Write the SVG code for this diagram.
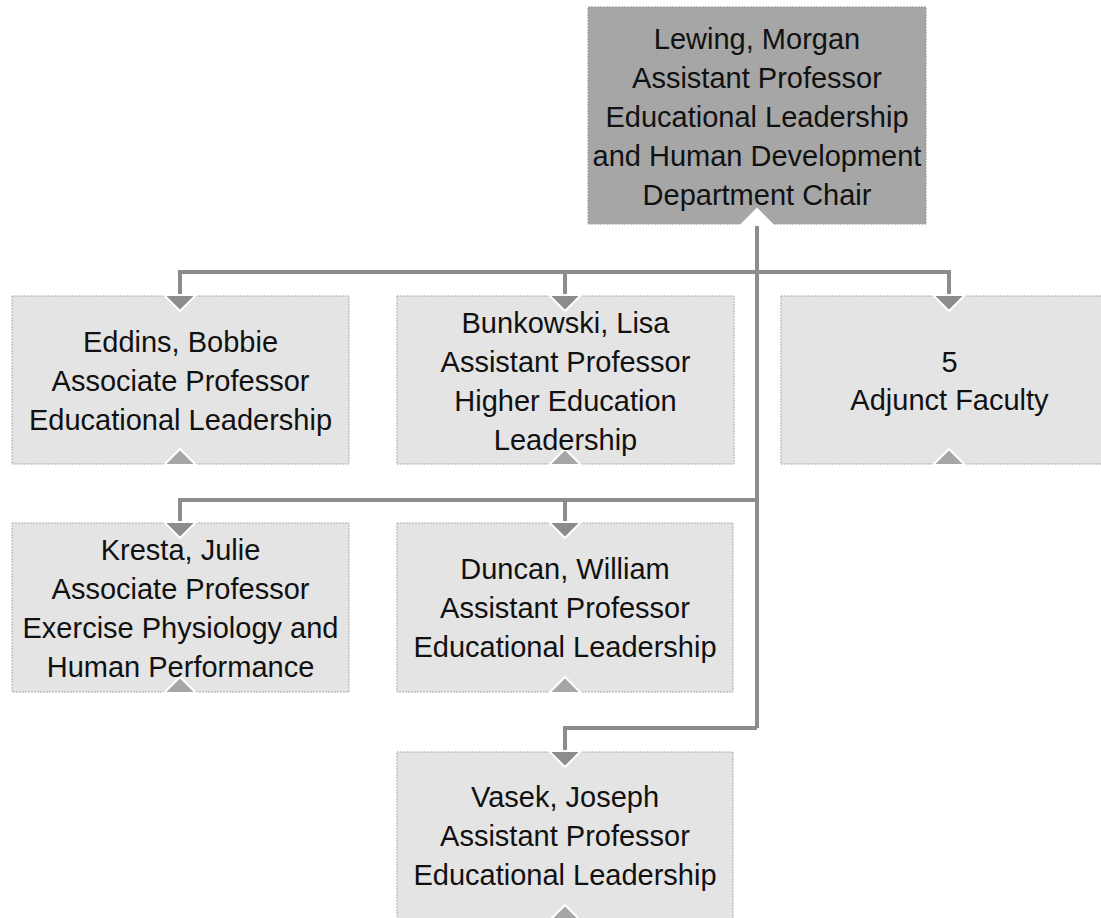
<svg xmlns="http://www.w3.org/2000/svg" width="1101" height="918" viewBox="0 0 1101 918">
<style>
.box{fill:#e4e4e4;stroke:#ababab;stroke-width:1;stroke-dasharray:2 1}
.chief{fill:#a6a6a6;stroke:#9a9a9a;stroke-width:1;stroke-dasharray:2 1}
.conn{fill:none;stroke:#8c8c8c;stroke-width:4}
.inN{fill:#8c8c8c;stroke:#ffffff;stroke-width:2}
.outN{fill:#a6a6a6;stroke:#ffffff;stroke-width:2}
.topN{fill:#ffffff;stroke:#ffffff;stroke-width:2}
text{font-family:"Liberation Sans",Arial,sans-serif;font-size:29px;fill:#111;text-anchor:middle}
</style>
<rect width="1101" height="918" fill="#ffffff"/>
<g id="connectors">
<path class="conn" d="M757,214 V728"/>
<path class="conn" d="M180,298 V272 H949 V298"/>
<path class="conn" d="M565,272 V298"/>
<path class="conn" d="M180,525 V500 H757"/>
<path class="conn" d="M565,500 V525"/>
<path class="conn" d="M757,728 H565 V754"/>
</g>
<g id="lewing">
<rect class="chief" x="588" y="7" width="338" height="217"/>
<polygon class="topN" points="741,225 773,225 757,209"/>
<text x="757" y="49">Lewing, Morgan</text>
<text x="757" y="88">Assistant Professor</text>
<text x="757" y="127">Educational Leadership</text>
<text x="757" y="166">and Human Development</text>
<text x="757" y="205">Department Chair</text>
</g>
<g id="eddins">
<rect class="box" x="12" y="296" width="337" height="168"/>
<polygon class="inN" points="164,295 196,295 180,311"/>
<polygon class="outN" points="164,465 196,465 180,449"/>
<text x="180.5" y="352">Eddins, Bobbie</text>
<text x="180.5" y="391">Associate Professor</text>
<text x="180.5" y="430">Educational Leadership</text>
</g>
<g id="bunkowski">
<rect class="box" x="397" y="296" width="337" height="168"/>
<polygon class="inN" points="549,295 581,295 565,311"/>
<polygon class="outN" points="549,465 581,465 565,449"/>
<text x="565.5" y="333">Bunkowski, Lisa</text>
<text x="565.5" y="372">Assistant Professor</text>
<text x="565.5" y="411">Higher Education</text>
<text x="565.5" y="450">Leadership</text>
</g>
<g id="adjunct">
<rect class="box" x="781" y="296" width="337" height="168"/>
<polygon class="inN" points="933,295 965,295 949,311"/>
<polygon class="outN" points="933,465 965,465 949,449"/>
<text x="949.5" y="372">5</text>
<text x="949.5" y="410">Adjunct Faculty</text>
</g>
<g id="kresta">
<rect class="box" x="12" y="523" width="337" height="169"/>
<polygon class="inN" points="164,522 196,522 180,538"/>
<polygon class="outN" points="164,693 196,693 180,677"/>
<text x="180.5" y="560">Kresta, Julie</text>
<text x="180.5" y="599">Associate Professor</text>
<text x="180.5" y="638">Exercise Physiology and</text>
<text x="180.5" y="677">Human Performance</text>
</g>
<g id="duncan">
<rect class="box" x="397" y="523" width="336" height="169"/>
<polygon class="inN" points="549,522 581,522 565,538"/>
<polygon class="outN" points="549,693 581,693 565,677"/>
<text x="565" y="579">Duncan, William</text>
<text x="565" y="618">Assistant Professor</text>
<text x="565" y="657">Educational Leadership</text>
</g>
<g id="vasek">
<rect class="box" x="397" y="752" width="336" height="168"/>
<polygon class="inN" points="549,751 581,751 565,767"/>
<polygon class="outN" points="549,921 581,921 565,905"/>
<text x="565" y="807">Vasek, Joseph</text>
<text x="565" y="846">Assistant Professor</text>
<text x="565" y="885">Educational Leadership</text>
</g>
</svg>
